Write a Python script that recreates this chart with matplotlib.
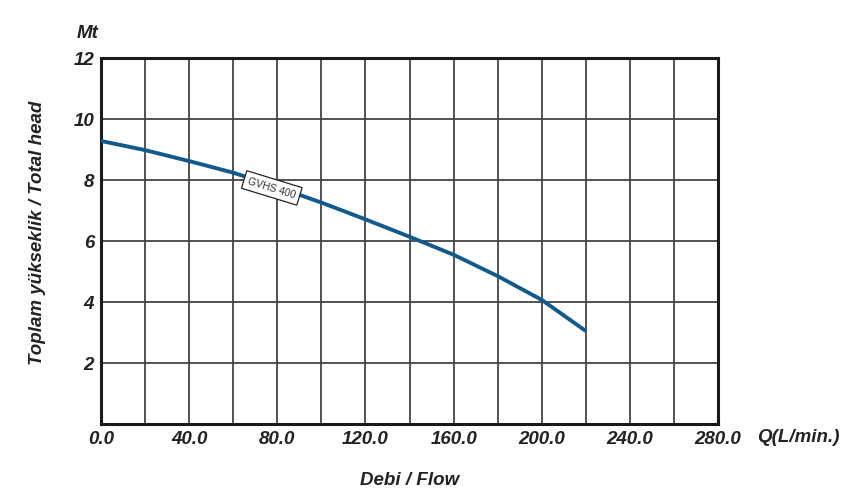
import matplotlib.pyplot as plt

# pump curve
flow = [0, 20, 40, 60, 80, 100, 120, 140, 160, 180, 200, 220]
head = [9.28, 8.98, 8.62, 8.24, 7.77, 7.26, 6.71, 6.14, 5.55, 4.85, 4.07, 3.05]
curve_name = "GVHS 400"

x_ticks = list(range(0, 281, 20))
x_labels = ["%.1f" % v if v % 40 == 0 else "" for v in x_ticks]
y_ticks = list(range(0, 13, 2))
y_labels = ["" if v == 0 else str(v) for v in y_ticks]

plt.rcParams['font.family'] = ['Liberation Sans', 'DejaVu Sans']
font = dict(fontsize=13.5, fontweight='bold', fontstyle='italic', color='#222222')

fig = plt.figure(figsize=(8.49, 4.98), dpi=100)
ax = fig.add_axes([0.119, 0.1486, 0.7267, 0.7349])

ax.plot(flow, head, color='#135a8c', linewidth=2.8, solid_capstyle='butt', zorder=3)

ax.set_xlim(0, 280)
ax.set_ylim(0, 12)
ax.set_xticks(x_ticks)
ax.set_xticklabels(x_labels, **font)
ax.set_yticks(y_ticks)
ax.set_yticklabels(y_labels, **font)
ax.tick_params(length=0, pad=5)
ax.grid(True, color='#444444', linewidth=1.3)
for s in ax.spines.values():
    s.set_linewidth(2.2)
    s.set_color('#1a1a1a')

ax.text(77.5, 7.74, curve_name, fontsize=7.5, rotation=-17, ha='center', va='center',
        color='#333333', zorder=4,
        bbox=dict(boxstyle='square,pad=0.4', facecolor='white', edgecolor='#222222', linewidth=0.9))

fig.text(88 / 849, 1 - 33 / 498, "Mt", ha='center', va='center', **font)
fig.text(798 / 849, 1 - 438 / 498, "Q(L/min.)", ha='center', va='center', **font)
fig.text(410 / 849, 1 - 480 / 498, "Debi / Flow", ha='center', va='center', **font)
fig.text(38 / 849, 1 - 233 / 498, "Toplam yükseklik / Total head", ha='center', va='center',
         rotation=90, **font)

fig.savefig("out.png", dpi=100)
